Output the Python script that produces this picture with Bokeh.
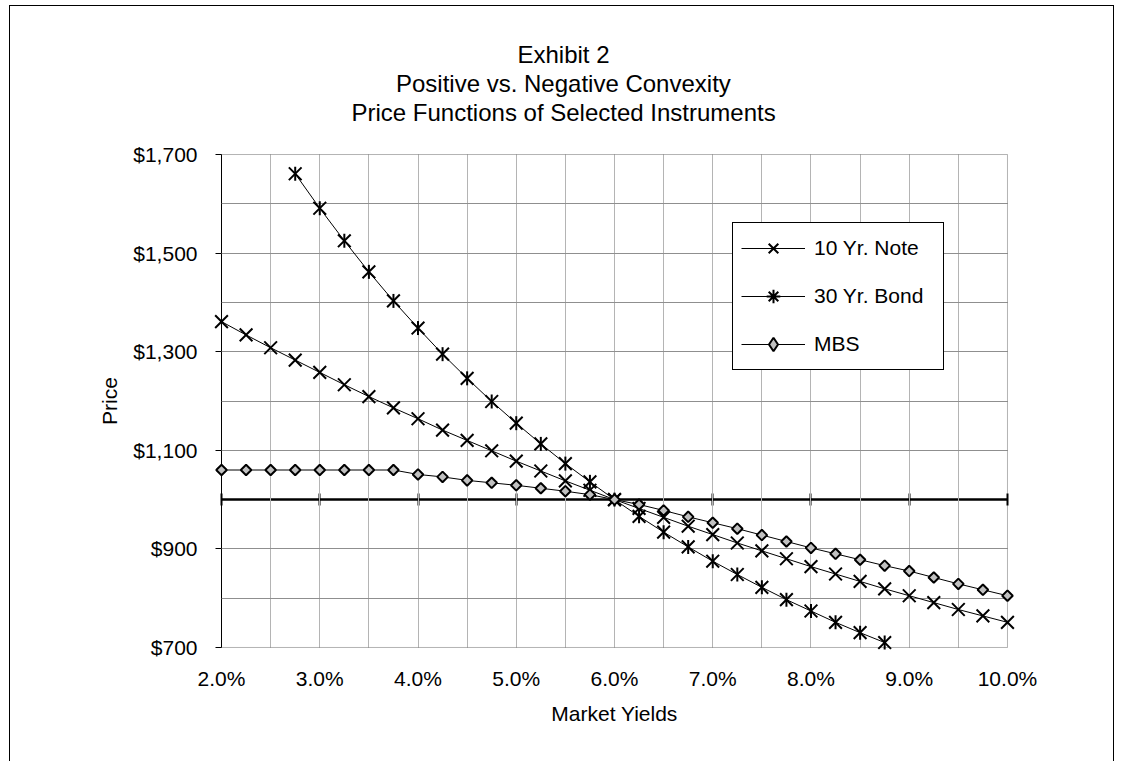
import math
from bokeh.plotting import figure
from bokeh.models import (Range1d, FixedTicker, LinearAxis, NumeralTickFormatter,
                          CustomJSTickFormatter, Legend, LegendItem, BoxAnnotation, Title)
from bokeh.embed import file_html
from bokeh.resources import INLINE

# ---------------- data ----------------
yields = [2.0, 2.25, 2.5, 2.75, 3.0, 3.25, 3.5, 3.75, 4.0, 4.25, 4.5, 4.75,
          5.0, 5.25, 5.5, 5.75, 6.0, 6.25, 6.5, 6.75, 7.0, 7.25, 7.5, 7.75,
          8.0, 8.25, 8.5, 8.75, 9.0, 9.25, 9.5, 9.75, 10.0]

note_10yr = [1361, 1334, 1308, 1283, 1258, 1233, 1209, 1186, 1164, 1141, 1120, 1099,
             1078, 1058, 1038, 1019, 1000, 982, 964, 946, 929, 912, 896, 880,
             864, 849, 834, 819, 805, 791, 777, 764, 751]

bond_yields = [2.75, 3.0, 3.25, 3.5, 3.75, 4.0, 4.25, 4.5, 4.75, 5.0, 5.25, 5.5,
               5.75, 6.0, 6.25, 6.5, 6.75, 7.0, 7.25, 7.5, 7.75, 8.0, 8.25, 8.5, 8.75]
bond_30yr = [1661, 1591, 1525, 1462, 1403, 1348, 1295, 1246, 1199, 1155, 1113, 1073,
             1036, 1000, 966, 934, 904, 875, 848, 822, 797, 774, 751, 730, 710]

mbs = [1060, 1060, 1060, 1060, 1060, 1060, 1060, 1060, 1051, 1046, 1039, 1034,
       1029, 1023, 1017, 1010, 1000, 990, 978, 965, 953, 941, 928, 915,
       902, 890, 878, 866, 855, 842, 829, 817, 805]

series_names = ["10 Yr. Note", "30 Yr. Bond", "MBS"]

x_major_ticks = [2, 3, 4, 5, 6, 7, 8, 9, 10]
x_minor_ticks = [2.5, 3.5, 4.5, 5.5, 6.5, 7.5, 8.5, 9.5]
y_major_ticks = [700, 900, 1100, 1300, 1500, 1700]
y_minor_ticks = [800, 1000, 1200, 1400, 1600]
par_value = 1000

title_lines = ["Exhibit 2", "Positive vs. Negative Convexity",
               "Price Functions of Selected Instruments"]
# approximate rendered widths (px) of the title lines, used only to centre them
title_widths = [92, 335, 424]

# ---------------- layout constants ----------------
X_MIN, X_MAX = 2.0, 10.0
Y_MIN, Y_MAX = 700, 1700
PX_PER_X = 98.0
PX_PER_Y = 0.492
PAD = 10
FONT = "Liberation Sans"
MIN_LEFT = 201
TITLE_CENTER = 553  # canvas px
TITLE_GAP = 19      # px between plot frame and the lowest title line

p = figure(width=1105, height=756, output_backend="svg", toolbar_location=None,
           title=None,
           x_range=Range1d(X_MIN - PAD / PX_PER_X, X_MAX + PAD / PX_PER_X),
           y_range=Range1d(Y_MIN - PAD / PX_PER_Y, Y_MAX + PAD / PX_PER_Y),
           min_border_left=MIN_LEFT, min_border_right=98, min_border_top=138,
           min_border_bottom=105,
           background_fill_color="white", border_fill_color="white",
           outline_line_color=None,
           styles={"margin-left": "9px", "margin-top": "5px",
                   "border-top": "1px solid black", "border-left": "1px solid black",
                   "border-right": "1px solid black"})

# keep references to the default axes before adding any others
xax = p.below[0]
yax = p.left[0]

# blank spacer (white, label-less) between the plot box and the titles
spacer = LinearAxis(ticker=FixedTicker(ticks=[X_MIN], minor_ticks=[]),
                    formatter=CustomJSTickFormatter(code="return '';"),
                    axis_line_color=None,
                    major_tick_in=0, major_tick_out=TITLE_GAP, minor_tick_in=0, minor_tick_out=0,
                    major_tick_line_color="white", major_tick_line_width=1,
                    major_label_standoff=0, major_label_text_font_size="1px")
p.add_layout(spacer, "above")

# titles: added nearest-to-plot first
for i in (2, 1, 0):
    t = Title(text=title_lines[i], align="left",
              offset=TITLE_CENTER - MIN_LEFT - title_widths[i] / 2,
              standoff=0,
              text_font=FONT, text_font_size="24px", text_font_style="normal",
              text_color="black")
    p.add_layout(t, "above")

# bottom axis: tick labels + axis title
xax.ticker = FixedTicker(ticks=x_major_ticks, minor_ticks=[])
xax.formatter = CustomJSTickFormatter(code="return tick.toFixed(1) + '%';")
xax.axis_line_color = None
xax.major_tick_in = 0
xax.major_tick_out = 0
xax.minor_tick_in = 0
xax.minor_tick_out = 0
xax.major_label_text_font = FONT
xax.major_label_text_font_size = "21px"
xax.major_label_text_color = "black"
xax.major_label_standoff = 9
xax.axis_label = "Market Yields"
xax.axis_label_text_font = FONT
xax.axis_label_text_font_size = "21px"
xax.axis_label_text_font_style = "normal"
xax.axis_label_text_color = "black"
xax.axis_label_standoff = 9

# left axis: tick labels + axis title
yax.ticker = FixedTicker(ticks=y_major_ticks, minor_ticks=[])
yax.formatter = NumeralTickFormatter(format="$0,0")
yax.axis_line_color = None
yax.major_tick_in = 0
yax.major_tick_out = 0
yax.minor_tick_in = 0
yax.minor_tick_out = 0
yax.major_label_text_font = FONT
yax.major_label_text_font_size = "21px"
yax.major_label_text_color = "black"
yax.major_label_standoff = 14
yax.axis_label = "Price"
yax.axis_label_text_font = FONT
yax.axis_label_text_font_size = "21px"
yax.axis_label_text_font_style = "normal"
yax.axis_label_text_color = "black"
yax.axis_label_standoff = 9

# left axis line with outward ticks at the plot box edge
y_tick_axis = LinearAxis(fixed_location=X_MIN, bounds=(Y_MIN, Y_MAX),
                         ticker=FixedTicker(ticks=y_major_ticks, minor_ticks=[]),
                         formatter=CustomJSTickFormatter(code="return '';"),
                         major_tick_in=0, major_tick_out=6, minor_tick_in=0, minor_tick_out=0,
                         axis_line_width=1, axis_line_color="black",
                         major_tick_line_width=1, major_tick_line_color="black",
                         level="underlay")
p.add_layout(y_tick_axis, "left")

# horizontal axis crossing at par ($1,000)
par_axis = LinearAxis(fixed_location=par_value, bounds=(X_MIN, X_MAX),
                      ticker=FixedTicker(ticks=x_major_ticks, minor_ticks=[]),
                      formatter=CustomJSTickFormatter(code="return '';"),
                      major_tick_in=6, major_tick_out=6, minor_tick_in=0, minor_tick_out=0,
                      axis_line_width=2.5, axis_line_color="black",
                      major_tick_line_width=2, major_tick_line_color="black",
                      level="underlay")
p.add_layout(par_axis, "below")

# grids (interior lines only)
x_grid_lines = sorted(v for v in x_major_ticks + x_minor_ticks if X_MIN < v < X_MAX)
y_grid_lines = sorted(v for v in y_major_ticks + y_minor_ticks
                      if Y_MIN < v < Y_MAX and v != par_value)
p.xgrid.axis = None
p.xgrid.ticker = FixedTicker(ticks=x_grid_lines, minor_ticks=[])
p.xgrid.cross_bounds = (Y_MIN, Y_MAX)
p.xgrid.grid_line_color = "#b4b4b4"
p.xgrid.grid_line_width = 1
p.ygrid.axis = None
p.ygrid.ticker = FixedTicker(ticks=y_grid_lines, minor_ticks=[])
p.ygrid.cross_bounds = (X_MIN, X_MAX)
p.ygrid.grid_line_color = "#8f8f8f"
p.ygrid.grid_line_width = 1

# plot-area border
box = BoxAnnotation(left=X_MIN, right=X_MAX, bottom=Y_MIN, top=Y_MAX,
                    fill_color=None, line_color="black", line_width=1, level="underlay")
p.add_layout(box)

# ---------------- series ----------------
ln_note = p.line(yields, note_10yr, line_color="black", line_width=1)
sc_note = p.scatter(yields, note_10yr, marker="x", size=18, line_color="black", line_width=2)

ln_bond = p.line(bond_yields, bond_30yr, line_color="black", line_width=1)
sc_bond_x = p.scatter(bond_yields, bond_30yr, marker="x", size=18,
                      line_color="black", line_width=2)
sc_bond_bar = p.scatter(bond_yields, bond_30yr, marker="dash", angle=math.pi / 2, size=14,
                        line_color="black", line_width=2)

ln_mbs = p.line(yields, mbs, line_color="black", line_width=1)
sc_mbs = p.scatter(yields, mbs, marker="square", angle=math.pi / 4, size=7.5,
                   fill_color="#c0c0c0", line_color="black", line_width=2)

# legend-only marker proxies (no visible points)
nan = float("nan")
lg_bond = p.scatter([nan], [nan], marker="asterisk", line_color="black", line_width=2)
lg_mbs = p.scatter([nan], [nan], marker="diamond", fill_color="#c0c0c0",
                   line_color="black", line_width=2)

legend = Legend(items=[
    LegendItem(label=series_names[0], renderers=[ln_note, sc_note]),
    LegendItem(label=series_names[1], renderers=[ln_bond, lg_bond]),
    LegendItem(label=series_names[2], renderers=[ln_mbs, lg_mbs]),
], location=(521, 287), orientation="vertical",
    border_line_color="black", border_line_width=1, border_line_alpha=1,
    background_fill_color="white", background_fill_alpha=1,
    padding=8, spacing=14, margin=0,
    label_height=34, glyph_height=34, glyph_width=64, label_standoff=9, label_width=121,
    label_text_font=FONT, label_text_font_size="21px", label_text_color="black")
p.add_layout(legend)

open("out.html", "w").write(file_html(p, INLINE))
